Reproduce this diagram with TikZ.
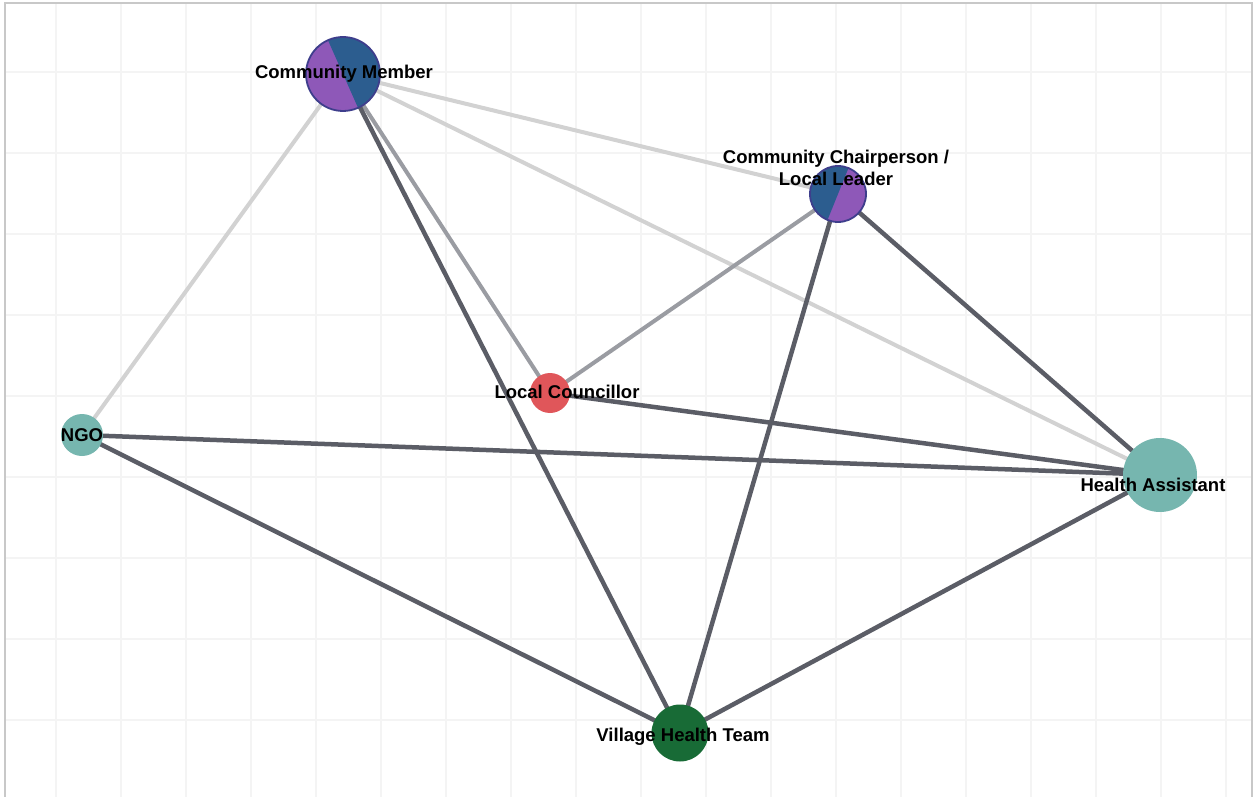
\documentclass[tikz,border=0pt]{standalone}
\usepackage{fontspec}
\setmainfont{Liberation Sans}
\pgfdeclarelayer{bg}
\pgfdeclarelayer{fg}
\pgfsetlayers{bg,main,fg}
\definecolor{gridc}{HTML}{F4F4F4}
\definecolor{framec}{HTML}{C8C8C8}
\definecolor{darke}{HTML}{5B5D66}
\definecolor{mide}{HTML}{9A9CA2}
\definecolor{lighte}{HTML}{D2D2D2}
\definecolor{pblue}{HTML}{2C5D8F}
\definecolor{ppurple}{HTML}{8E58B8}
\definecolor{prim}{HTML}{3E3E8C}
\definecolor{tealc}{HTML}{76B6AF}
\definecolor{redc}{HTML}{E0565A}
\definecolor{greenc}{HTML}{186B36}
\tikzset{
  vtx/.style={circle, inner sep=0pt, minimum size=#1},
  lbl/.style={font=\bfseries\fontsize{18.5}{22}\selectfont, text=black, inner sep=0pt, align=center},
  edark/.style={draw=darke, line width=4.5pt},
  emid/.style={draw=mide, line width=4pt},
  elight/.style={draw=lighte, line width=4pt},
}
\begin{document}
\begin{tikzpicture}[x=1pt,y=-1pt]
\useasboundingbox (0,0) rectangle (1259,797);
% grid
\begin{pgfonlayer}{bg}
\foreach \gx in {56,121,...,1251} \draw[gridc, line width=1.3pt] (\gx,3) -- (\gx,797);
\foreach \gy in {72,153,...,797} \draw[gridc, line width=1.3pt] (5,\gy) -- (1252,\gy);
\draw[framec, line width=1.2pt] (5,800) -- (5,3) -- (1252,3) -- (1252,800);
\end{pgfonlayer}
% nodes
\node[vtx=74pt, fill=ppurple] (cm) at (343,74) {};
\fill[pblue] (cm.center) ++(-114:37) arc[start angle=-114, end angle=66, radius=37] -- cycle;
\draw[prim, line width=1.8pt] (cm.center) circle[radius=37];
\node[vtx=56pt, fill=ppurple] (ch) at (838,194) {};
\fill[pblue] (ch.center) ++(-68:28) arc[start angle=-68, end angle=-248, radius=28] -- cycle;
\draw[prim, line width=1.8pt] (ch.center) circle[radius=28];
\node[vtx=40pt, fill=redc] (lc) at (550,393) {};
\node[vtx=42pt, fill=tealc] (ngo) at (82,435) {};
\node[vtx=74pt, fill=tealc] (ha) at (1160,475) {};
\node[vtx=57pt, fill=greenc] (vht) at (680,733) {};
% edges
\begin{pgfonlayer}{bg}
\draw[elight] (cm.center) -- (ngo.center);
\draw[elight] (cm.center) -- (ch.center);
\draw[elight] (cm.center) -- (ha.center);
\draw[emid] (cm.center) -- (lc.center);
\draw[edark] (cm.center) -- (vht.center);
\draw[emid] (ch.center) -- (lc.center);
\draw[edark] (ch.center) -- (vht.center);
\draw[edark] (ch.center) -- (ha.center);
\draw[edark] (lc.center) -- (ha.center);
\draw[edark] (ngo.center) -- (ha.center);
\draw[edark] (ngo.center) -- (vht.center);
\draw[edark] (ha.center) -- (vht.center);
\end{pgfonlayer}
% labels
\begin{pgfonlayer}{fg}
\node[lbl] (lcm) at (344,74) {Community Member};
\node[lbl] (lch) at (836,168) {Community Chairperson /\\Local Leader};
\node[lbl] (llc) at (567,392) {Local Councillor};
\node[lbl] (lngo) at (82,435) {NGO};
\node[lbl] (lha) at (1153,485) {Health Assistant};
\node[lbl] (lvht) at (683,737) {Village Health Team};
\end{pgfonlayer}
\end{tikzpicture}
\end{document}
